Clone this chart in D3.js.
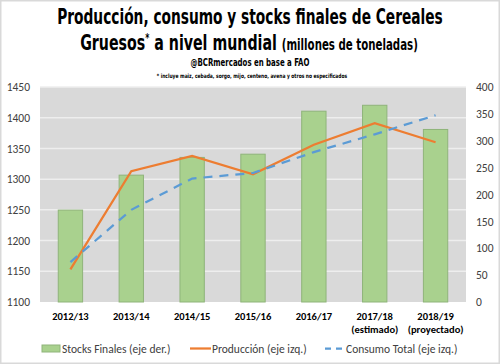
<!DOCTYPE html>
<html><head><meta charset="utf-8">
<script src="https://cdn.jsdelivr.net/npm/d3@7"></script>
<style>
html,body{margin:0;padding:0;background:#fff;}
svg{display:block;}
</style></head>
<body>
<svg id="c" width="500" height="364"></svg>
<script>
const categories = ["2012/13","2013/14","2014/15","2015/16","2016/17","2017/18","2018/19"];
const categorySub = ["","","","","","(estimado)","(proyectado)"];
const stocks = [171,236,269,275,355,366,321];
const produccion = [1153,1313,1338,1308,1356,1391,1360];
const consumo = [1165,1250,1301,1310,1344,1373,1404];
const leftTicks = [1100,1150,1200,1250,1300,1350,1400,1450];
const rightTicks = [0,50,100,150,200,250,300,350,400];

const svg = d3.select("#c");
const W = 500, H = 364;
const m = {l:40, r:34, t:87, b:62};
const pw = W - m.l - m.r, ph = H - m.t - m.b;

svg.append("rect").attr("x",0.75).attr("y",0.75).attr("width",W-1.5).attr("height",H-1.5)
  .attr("fill","#fff").attr("stroke","#d9d9d9").attr("stroke-width",1.5);

const titleFont = "'DejaVu Sans Condensed','Liberation Sans Narrow',sans-serif";
function fitText(sel, cx, width){
  const w = sel.node().getComputedTextLength();
  const s = width / w;
  sel.attr("x",0).attr("text-anchor","middle")
     .attr("transform",`translate(${cx},0) scale(${s},1)`);
}
const t1 = svg.append("text").attr("y",24)
  .attr("font-family",titleFont).attr("font-weight","bold").attr("font-size",21.5)
  .attr("fill","#000").text("Producción, consumo y stocks finales de Cereales");
fitText(t1, 250, 386);
const t2 = svg.append("text").attr("y",50)
  .attr("font-family",titleFont).attr("font-weight","bold").attr("fill","#000");
t2.append("tspan").attr("font-size",21.5).text("Gruesos");
t2.append("tspan").attr("font-size",12).attr("dy",-8).text("*");
t2.append("tspan").attr("font-size",21.5).attr("dy",8).text(" a nivel mundial ");
t2.append("tspan").attr("font-size",15.5).text("(millones de toneladas)");
fitText(t2, 249, 338);
const t3 = svg.append("text").attr("y",66)
  .attr("font-family",titleFont).attr("font-weight","bold").attr("font-size",10.5)
  .text("@BCRmercados en base a FAO");
fitText(t3, 250, 119);
const t4 = svg.append("text").attr("y",78)
  .attr("font-family",titleFont).attr("font-weight","bold").attr("font-size",6)
  .text("* incluye maiz, cebada,  sorgo, mijo, centeno, avena y otros no especificados");
fitText(t4, 252, 191);

const g = svg.append("g").attr("transform",`translate(${m.l},${m.t})`);
g.append("rect").attr("width",pw).attr("height",ph).attr("fill","#d9d9d9");

const x = d3.scaleBand().domain(categories).range([0,pw]).paddingInner(0.6).paddingOuter(0.3);
const xp = d3.scalePoint().domain(categories).range([0,pw]).padding(0.5);
const yL = d3.scaleLinear().domain([1100,1450]).range([ph,0]);
const yR = d3.scaleLinear().domain([0,400]).range([ph,0]);

g.selectAll(".grid").data(leftTicks.slice(1)).enter().append("line")
  .attr("x1",0).attr("x2",pw).attr("y1",d=>yL(d)).attr("y2",d=>yL(d))
  .attr("stroke","#eeeeee").attr("stroke-width",1.5);

g.selectAll(".bar").data(stocks).enter().append("rect")
  .attr("x",(d,i)=>x(categories[i])).attr("width",x.bandwidth())
  .attr("y",d=>yR(d)).attr("height",d=>ph-yR(d))
  .attr("fill","#a9d18e").attr("stroke","#8fb47a").attr("stroke-width",1);

g.append("path").datum(produccion).attr("d",d3.line().x((d,i)=>xp(categories[i])).y(d=>yL(d)))
  .attr("fill","none").attr("stroke","#ed7d31").attr("stroke-width",2.25);
g.append("path").datum(consumo).attr("d",d3.line().x((d,i)=>xp(categories[i])).y(d=>yL(d)))
  .attr("fill","none").attr("stroke","#5b9bd5").attr("stroke-width",2.25)
  .attr("stroke-dasharray","9,7");

const tickFont = "Carlito,Calibri,'Open Sans','DejaVu Sans',sans-serif";
const axL = g.append("g").call(d3.axisLeft(yL).tickValues(leftTicks).tickFormat(d3.format("d")).tickSize(0).tickPadding(10));
axL.select(".domain").remove();
axL.selectAll("text").attr("font-family",tickFont).attr("font-size",11.5).attr("fill","#404040");
const axR = g.append("g").attr("transform",`translate(${pw},0)`)
  .call(d3.axisRight(yR).tickValues(rightTicks).tickFormat(d3.format("d")).tickSize(0).tickPadding(10));
axR.select(".domain").remove();
axR.selectAll("text").attr("font-family",tickFont).attr("font-size",11.5).attr("fill","#404040");

const xl = g.append("g").attr("transform",`translate(0,${ph})`);
categories.forEach((c,i)=>{
  const t = xl.append("text").attr("x",xp(c)).attr("y",18).attr("text-anchor","middle")
    .attr("font-family",tickFont).attr("font-weight","bold").attr("font-size",10.5).attr("fill","#000");
  t.append("tspan").attr("x",xp(c)).text(c);
  if (categorySub[i]) t.append("tspan").attr("x",xp(c)).attr("dy",13).text(categorySub[i]);
});

const lg = svg.append("g").attr("font-family",tickFont).attr("font-size",11.5).attr("fill","#404040");
lg.append("rect").attr("x",42).attr("y",345).attr("width",18).attr("height",7)
  .attr("fill","#a9d18e").attr("stroke","#8fb47a");
lg.append("text").attr("x",62).attr("y",352.5).text("Stocks Finales (eje der.)");
lg.append("line").attr("x1",190).attr("x2",211).attr("y1",348.5).attr("y2",348.5)
  .attr("stroke","#ed7d31").attr("stroke-width",2.25);
lg.append("text").attr("x",212).attr("y",352.5).text("Producción (eje izq.)");
lg.append("line").attr("x1",325).attr("x2",346).attr("y1",348.5).attr("y2",348.5)
  .attr("stroke","#5b9bd5").attr("stroke-width",2.25).attr("stroke-dasharray","6,5");
lg.append("text").attr("x",346).attr("y",352.5).text("Consumo Total (eje izq.)");
</script>
</body></html>
